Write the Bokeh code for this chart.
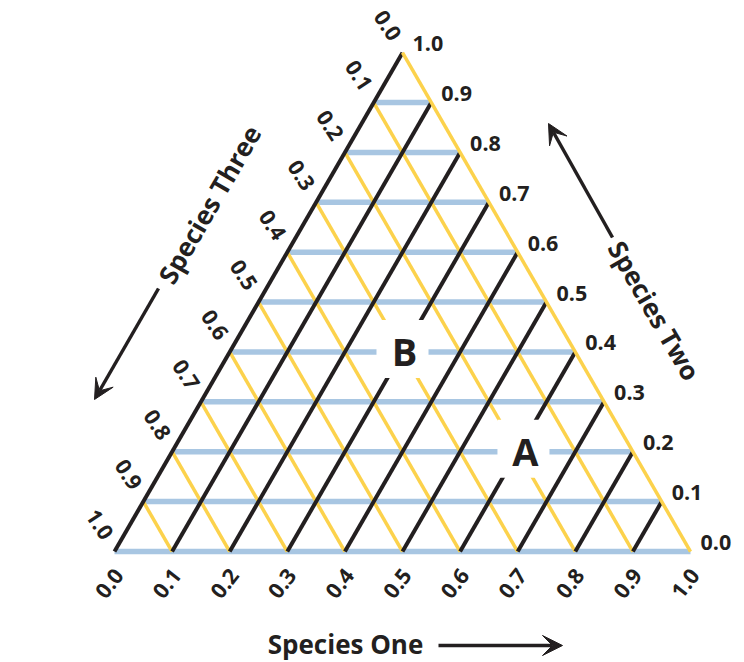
import math
from bokeh.plotting import figure
from bokeh.models import Range1d, Arrow, VeeHead
from bokeh.core.properties import value
from bokeh.embed import file_html
from bokeh.resources import INLINE

# ---------------- data ----------------
grid_values = [0.0, 0.1, 0.2, 0.3, 0.4, 0.5, 0.6, 0.7, 0.8, 0.9]
tick_values = [0.0, 0.1, 0.2, 0.3, 0.4, 0.5, 0.6, 0.7, 0.8, 0.9, 1.0]
tick_labels = ["0.0", "0.1", "0.2", "0.3", "0.4", "0.5", "0.6", "0.7", "0.8", "0.9", "1.0"]
axis_titles = ["Species One", "Species Two", "Species Three"]
point_names = ["A", "B"]
point_s1 = [0.61, 0.30]
point_s2 = [0.20, 0.40]
point_s3 = [0.19, 0.30]

# ---------------- geometry ----------------
W, HGT = 744, 662
SIDE = 576.0            # pixels per unit side
PX = 1.0 / SIDE
H = math.sqrt(3) / 2
ORG_X, ORG_Y = 114, 551   # pixel position of the (species one = 0, species two = 0) corner
X0 = -ORG_X * PX
Y1 = ORG_Y * PX
BLACK = "#231f20"
YELLOW = "#fcd24c"
BLUE = "#a8c6e2"
FONT = value("Open Sans")
TICK_SIZE = "21.5px"


def tern(s1, s2):
    return s1 + s2 / 2.0, s2 * H


def off(pt, dx, dy):
    # offset by screen pixels (dy positive = down)
    return pt[0] + dx * PX, pt[1] - dy * PX


def scr(sx, sy):
    # canvas pixel position -> data
    return X0 + sx * PX, Y1 - sy * PX


p = figure(width=W, height=HGT, output_backend="svg", toolbar_location=None,
           x_range=Range1d(X0, X0 + W * PX), y_range=Range1d(Y1 - HGT * PX, Y1),
           x_axis_type=None, y_axis_type=None, min_border=0)
p.grid.visible = False
p.outline_line_color = None
p.background_fill_color = "white"
p.border_fill_color = "white"

# blue lines (constant species two)
bx0, by0, bx1, by1 = [], [], [], []
for v in grid_values:
    a = tern(0, v); b = tern(1 - v, v)
    bx0.append(a[0]); by0.append(a[1]); bx1.append(b[0]); by1.append(b[1])
p.segment(bx0, by0, bx1, by1, line_color=BLUE, line_width=5.5)

# yellow lines (constant species three), inner ones
yx0, yy0, yx1, yy1 = [], [], [], []
for v in grid_values[1:]:
    a = tern(1 - v, 0); b = tern(0, 1 - v)
    yx0.append(a[0]); yy0.append(a[1]); yx1.append(b[0]); yy1.append(b[1])
p.segment(yx0, yy0, yx1, yy1, line_color=YELLOW, line_width=3.5)

# black lines (constant species one)
kx0, ky0, kx1, ky1 = [], [], [], []
for v in grid_values:
    a = tern(v, 0); b = tern(v, 1 - v)
    kx0.append(a[0]); ky0.append(a[1]); kx1.append(b[0]); ky1.append(b[1])
p.segment(kx0, ky0, kx1, ky1, line_color=BLACK, line_width=4)

# right edge (species three = 0)
a = tern(1, 0); b = tern(0, 1)
p.segment([a[0]], [a[1]], [b[0]], [b[1]], line_color=YELLOW, line_width=3.5)

# point labels A, B with white boxes
px_, py_ = [], []
for s1, s2 in zip(point_s1, point_s2):
    q = tern(s1, s2)
    px_.append(q[0]); py_.append(q[1])
ry = [y + 3 * PX for y in py_]
p.rect(px_, ry, width=52 * PX, height=58 * PX, fill_color="white", line_color=None)
p.text([x + 2 * PX for x in px_], [y + 1 * PX for y in py_], text=point_names,
       text_align="center", text_baseline="middle", text_font=FONT,
       text_font_style="bold", text_font_size="38px", text_color=BLACK)

# tick labels: species three (left side)
lx, ly = [], []
for t in tick_values:
    q = off(tern(0, 1 - t), -15, -27)
    lx.append(q[0]); ly.append(q[1])
p.text(lx, ly, text=tick_labels, angle=-math.radians(57), text_align="center",
       text_baseline="middle", text_font=FONT, text_font_style="bold",
       text_font_size=TICK_SIZE, text_color=BLACK)

# tick labels: species one (base)
dx_, dy_ = [], []
for t in tick_values:
    q = off(tern(t, 0), -5, 32)
    dx_.append(q[0]); dy_.append(q[1])
p.text(dx_, dy_, text=tick_labels, angle=math.radians(52), text_align="center",
       text_baseline="middle", text_font=FONT, text_font_style="bold",
       text_font_size=TICK_SIZE, text_color=BLACK)

# tick labels: species two (right side)
rx_, ry_ = [], []
for t in tick_values:
    q = off(tern(1 - t, t), 10, -9)
    rx_.append(q[0]); ry_.append(q[1])
p.text(rx_, ry_, text=tick_labels, text_align="left",
       text_baseline="middle", text_font=FONT, text_font_style="bold",
       text_font_size=TICK_SIZE, text_color=BLACK)

# axis titles
t1 = scr(345, 643)
p.text([t1[0]], [t1[1]], text=[axis_titles[0]], text_align="center", text_baseline="middle",
       text_font=FONT, text_font_style="bold", text_font_size="26px", text_color=BLACK)
t2 = scr(654, 310)
p.text([t2[0]], [t2[1]], text=[axis_titles[1]], angle=-math.radians(60), text_align="center",
       text_baseline="middle", text_font=FONT, text_font_style="bold", text_font_size="26px",
       text_color=BLACK)
t3 = scr(209, 204)
p.text([t3[0]], [t3[1]], text=[axis_titles[2]], angle=math.radians(60), text_align="center",
       text_baseline="middle", text_font=FONT, text_font_style="bold", text_font_size="26px",
       text_color=BLACK)

# arrows
for (sx0, sy0, sx1, sy1) in [(438, 645, 562, 645), (612, 237, 548, 123), (158, 288, 94, 399)]:
    a0 = scr(sx0, sy0); a1 = scr(sx1, sy1)
    p.add_layout(Arrow(end=VeeHead(size=20, fill_color=BLACK, line_color=BLACK, line_width=1),
                       x_start=a0[0], y_start=a0[1], x_end=a1[0], y_end=a1[1],
                       line_color=BLACK, line_width=3.5))

open("out.html", "w").write(file_html(p, INLINE))
